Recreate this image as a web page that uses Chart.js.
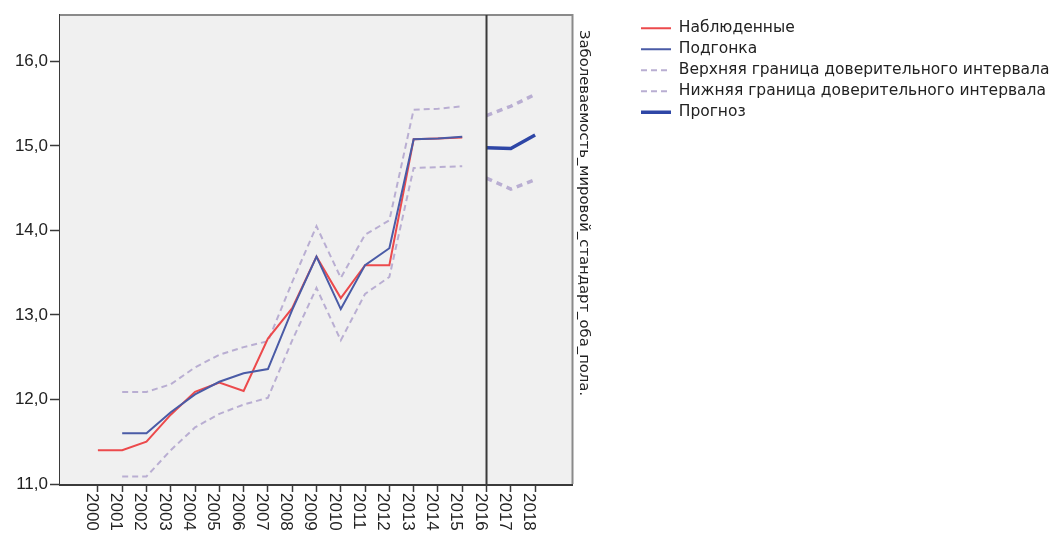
<!DOCTYPE html>
<html lang="ru">
<head>
<meta charset="utf-8">
<title>Заболеваемость: наблюдения, подгонка и прогноз</title>
<script src="https://cdn.jsdelivr.net/npm/chart.js@4.4.1/dist/chart.umd.min.js"></script>
<style>
  html, body { margin: 0; padding: 0; background: #ffffff; }
  canvas { display: block; }
</style>
</head>
<body>
<canvas id="chart" width="1061" height="533"></canvas>
<script>
// ---- data ----
const years = [2000, 2001, 2002, 2003, 2004, 2005, 2006, 2007, 2008, 2009,
               2010, 2011, 2012, 2013, 2014, 2015, 2016, 2017, 2018];
const yearLabels = years.map(String);

const observedYears = [2000, 2001, 2002, 2003, 2004, 2005, 2006, 2007,
                       2008, 2009, 2010, 2011, 2012, 2013, 2014, 2015];
const observed = [11.40, 11.40, 11.50, 11.82, 12.09, 12.20, 12.10, 12.72,
                  13.08, 13.69, 13.20, 13.59, 13.59, 15.08, 15.09, 15.10];

const fitYears = [2001, 2002, 2003, 2004, 2005, 2006, 2007, 2008,
                  2009, 2010, 2011, 2012, 2013, 2014, 2015];
const fitted     = [11.60, 11.60, 11.85, 12.06, 12.21, 12.31, 12.36, 13.06,
                    13.69, 13.07, 13.59, 13.79, 15.08, 15.09, 15.11];
const upperBound = [12.09, 12.09, 12.18, 12.38, 12.53, 12.62, 12.69, 13.39,
                    14.05, 13.44, 13.95, 14.12, 15.43, 15.44, 15.47];
const lowerBound = [11.09, 11.09, 11.40, 11.67, 11.83, 11.94, 12.02, 12.70,
                    13.32, 12.70, 13.25, 13.45, 14.74, 14.75, 14.76];

const forecastYears = [2016, 2017, 2018];
const forecast      = [14.98, 14.97, 15.13];
const forecastUpper = [15.36, 15.47, 15.61];
const forecastLower = [14.62, 14.49, 14.60];

const yTicks = [11, 12, 13, 14, 15, 16];
const forecastStart = 2016;

const legendNames = [
  'Наблюденные',
  'Подгонка',
  'Верхняя граница доверительного интервала',
  'Нижняя граница доверительного интервала',
  'Прогноз'
];
const seriesTitle = 'Заболеваемость_мировой_стандарт_оба_пола.';

// ---- styling ----
const FONT = "'Liberation Sans', Arial, sans-serif";
const LABEL_FONT = "'DejaVu Sans', sans-serif";
const TEXT = '#222222';
const AXIS = '#3a3a3a';
const RED = '#ec4a4c';
const BLUE = '#4a5ba6';
const DARK_BLUE = '#2e46a6';
const BAND = '#b9aed2';
const LEGEND_SIZE = 15.5;

Chart.defaults.font.family = FONT;
Chart.defaults.color = TEXT;

const pts = (xs, ys) => xs.map((x, i) => ({ x, y: ys[i] }));

function lineSet(label, xs, ys, color, width, dash, order) {
  return {
    label, data: pts(xs, ys),
    borderColor: color, backgroundColor: color,
    borderWidth: width, borderDash: dash,
    pointRadius: 0, pointHoverRadius: 0, pointStyle: 'line',
    tension: 0, fill: false, order
  };
}

const datasets = [
  lineSet(legendNames[0], observedYears, observed, RED, 2, [], 2),
  lineSet(legendNames[1], fitYears, fitted, BLUE, 2, [], 1),
  lineSet(legendNames[2], fitYears, upperBound, BAND, 2, [6, 4], 3),
  lineSet(legendNames[3], fitYears, lowerBound, BAND, 2, [6, 4], 3),
  lineSet(legendNames[4], forecastYears, forecast, DARK_BLUE, 3.5, [], 0),
  lineSet(legendNames[2], forecastYears, forecastUpper, BAND, 3.5, [6, 5], 3),
  lineSet(legendNames[3], forecastYears, forecastLower, BAND, 3.5, [6, 5], 3)
];

// legend column width, so the legend starts where it should
const measure = document.createElement('canvas').getContext('2d');
measure.font = LEGEND_SIZE + 'px ' + LABEL_FONT;
const legendTextW = Math.max(...legendNames.map(t => measure.measureText(t).width));
const legendPad = 5.5, legendBox = 30;
const legendWidth = legendPad * 2 + legendBox + LEGEND_SIZE / 2 + legendTextW;
const legendLeft = 640;
const rightPadding = Math.max(0, 1061 - legendLeft - legendWidth);

// plot panel: grey fill, frame and the forecast divider
const panel = {
  id: 'panel',
  beforeDatasetsDraw(chart) {
    const { ctx, chartArea: a } = chart;
    ctx.save();
    ctx.fillStyle = '#f0f0f0';
    ctx.fillRect(a.left, a.top, a.right - a.left, a.bottom - a.top);
    ctx.restore();
  },
  afterDatasetsDraw(chart) {
    const { ctx, chartArea: a, scales } = chart;
    ctx.save();
    ctx.strokeStyle = '#8a8a8a';
    ctx.lineWidth = 2;
    ctx.beginPath();
    ctx.moveTo(a.left, a.top);
    ctx.lineTo(a.right, a.top);
    ctx.lineTo(a.right, a.bottom);
    ctx.stroke();
    const xf = scales.x.getPixelForValue(forecastStart);
    ctx.strokeStyle = AXIS;
    ctx.lineWidth = 2;
    ctx.beginPath();
    ctx.moveTo(xf, a.top);
    ctx.lineTo(xf, a.bottom);
    ctx.stroke();
    ctx.restore();
  },
  afterDraw(chart) {
    // year labels, turned to read downwards under each tick
    const { ctx, scales } = chart;
    const xs = scales.x;
    ctx.save();
    ctx.fillStyle = TEXT;
    ctx.font = '17px ' + FONT;
    ctx.textAlign = 'left';
    ctx.textBaseline = 'alphabetic';
    years.forEach((yr, i) => {
      const px = xs.getPixelForValue(yr);
      ctx.save();
      ctx.translate(px - 11, xs.top + 9);
      ctx.rotate(Math.PI / 2);
      ctx.fillText(yearLabels[i], 0, 0);
      ctx.restore();
    });
    ctx.restore();
  },
  afterLayout(chart) {
    // leave a small gap above the right-hand title
    const s = chart.scales.y2;
    if (s) s.top = chart.chartArea.top + 15;
  }
};

new Chart(document.getElementById('chart'), {
  type: 'line',
  data: { datasets },
  options: {
    responsive: false,
    animation: false,
    events: [],
    layout: { padding: { top: 15, right: rightPadding, bottom: 0, left: 0 } },
    plugins: {
      tooltip: { enabled: false },
      legend: {
        position: 'right',
        align: 'start',
        maxWidth: 600,
        labels: {
          usePointStyle: true,
          pointStyleWidth: legendBox,
          padding: legendPad,
          color: TEXT,
          font: { size: LEGEND_SIZE, family: LABEL_FONT },
          generateLabels: chart => chart.data.datasets.slice(0, 5).map((ds, i) => ({
            text: ds.label,
            datasetIndex: i,
            fillStyle: ds.borderColor,
            strokeStyle: ds.borderColor,
            lineWidth: ds.borderWidth,
            lineDash: ds.borderDash,
            pointStyle: 'line',
            fontColor: TEXT,
            hidden: false
          }))
        }
      }
    },
    scales: {
      x: {
        type: 'linear',
        position: 'bottom',
        min: 1998.44,
        max: 2019.54,
        afterBuildTicks: s => { s.ticks = years.map(v => ({ value: v })); },
        afterFit: s => { s.height = 49; },
        ticks: { display: false },
        grid: { drawOnChartArea: false, drawTicks: true, tickLength: 8, color: AXIS, tickWidth: 1.5 },
        border: { color: AXIS, width: 3 }
      },
      y: {
        position: 'left',
        min: 11,
        max: 16.55,
        afterBuildTicks: s => { s.ticks = yTicks.map(v => ({ value: v })); },
        afterFit: s => { s.width = 60; },
        ticks: {
          padding: 2,
          color: TEXT,
          font: { size: 17 },
          callback: v => v.toFixed(1).replace('.', ',')
        },
        grid: { drawOnChartArea: false, drawTicks: true, tickLength: 10, color: AXIS, tickWidth: 1.5 },
        border: { color: AXIS, width: 3 }
      },
      y2: {
        position: 'right',
        min: 11,
        max: 16.55,
        afterBuildTicks: s => { s.ticks = []; },
        afterFit: s => { s.width = 63; },
        ticks: { display: false },
        grid: { display: false },
        border: { display: false },
        title: {
          display: true,
          text: seriesTitle,
          align: 'end',
          color: TEXT,
          font: { size: 14.8, family: LABEL_FONT },
          padding: { top: 43, bottom: 0 }
        }
      }
    }
  },
  plugins: [panel]
});
</script>
</body>
</html>
